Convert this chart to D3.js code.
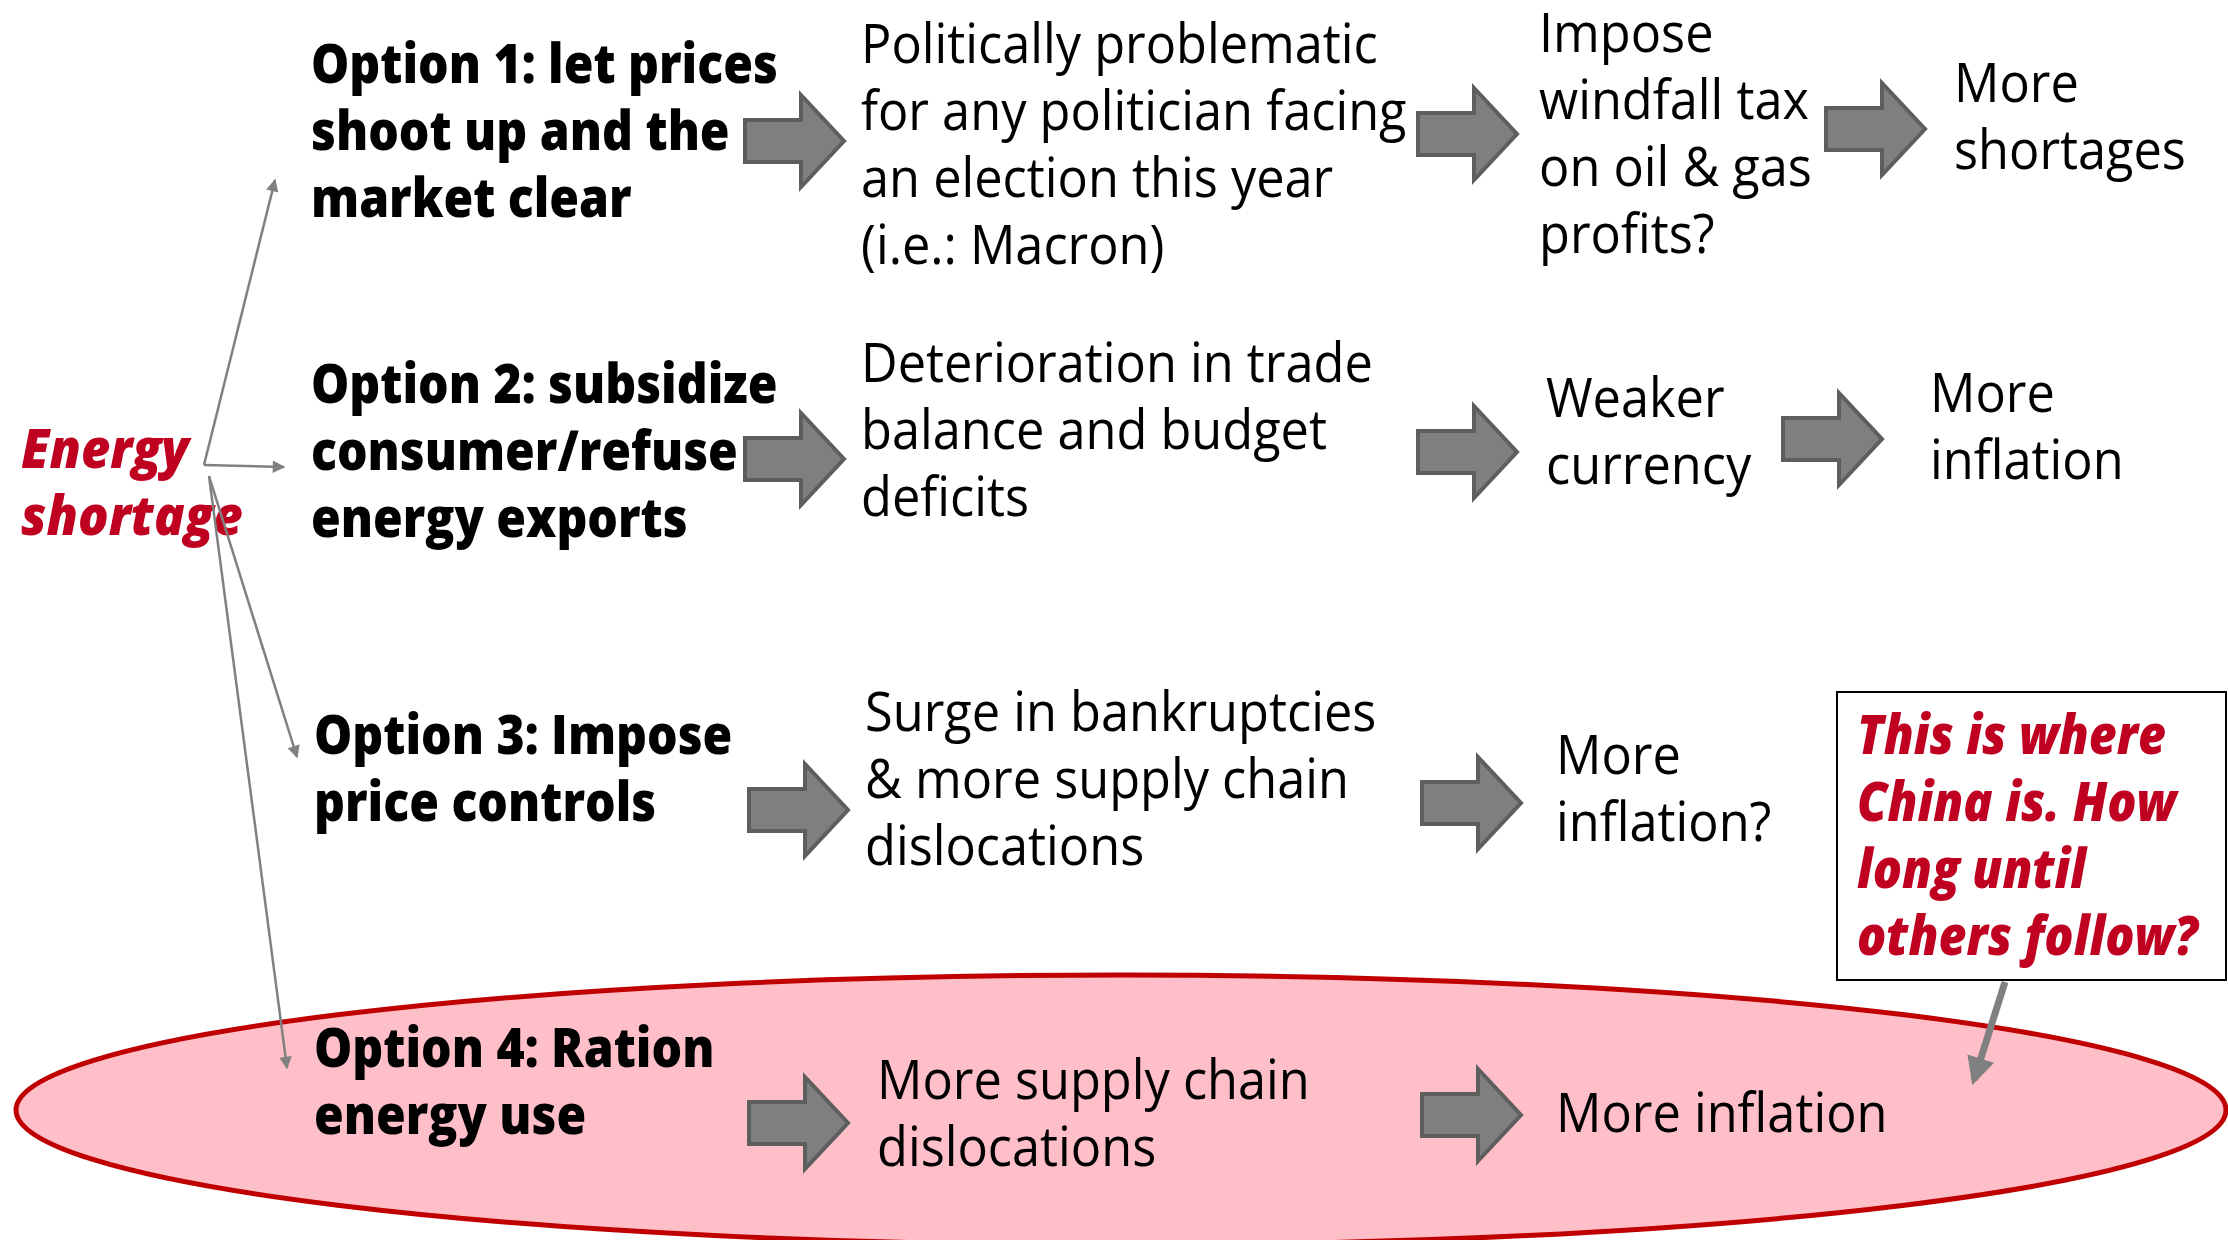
<!DOCTYPE html>
<html>
<head>
<meta charset="utf-8">
<script src="https://cdn.jsdelivr.net/npm/d3@7"></script>
<style>
  html, body { margin: 0; padding: 0; background: #fff; }
  svg { display: block; }
  text { font-family: "Open Sans", "Noto Sans", sans-serif; }
</style>
</head>
<body>
<div id="chart"></div>
<script>
// ---- content ----
var sourceLabel = ["Energy", "shortage"];

var optionLabels = [
  ["Option 1: let prices", "shoot up and the", "market clear"],
  ["Option 2: subsidize", "consumer/refuse", "energy exports"],
  ["Option 3: Impose", "price controls"],
  ["Option 4: Ration", "energy use"]
];

var firstEffects = [
  ["Politically problematic", "for any politician facing", "an election this year", "(i.e.: Macron)"],
  ["Deterioration in trade", "balance and budget", "deficits"],
  ["Surge in bankruptcies", "& more supply chain", "dislocations"],
  ["More supply chain", "dislocations"]
];

var secondEffects = [
  ["Impose", "windfall tax", "on oil & gas", "profits?"],
  ["Weaker", "currency"],
  ["More", "inflation?"],
  ["More inflation"]
];

var thirdEffects = [
  ["More", "shortages"],
  ["More", "inflation"],
  null,
  null
];

var calloutLines = ["This is where", "China is. How", "long until", "others follow?"];

// ---- layout (pixels) ----
var W = 2228, H = 1240;
var lineGap = 67;
var fontSize = 54;
var red = "#c00021";

// first baseline of each text block, per row
var optionPos  = [[311, 83], [311, 403], [314, 754], [314, 1067]];
var firstPos   = [[861, 63], [861, 382], [865, 731], [877, 1099]];
var secondPos  = [[1539, 52], [1546, 417], [1556, 774], [1556, 1132]];
var thirdPos   = [[1954, 102], [1930, 412], null, null];

// block arrows: left x, centre y
var arrows = [
  [745, 141], [1418, 134], [1826, 129],
  [745, 459], [1418, 452], [1783, 439],
  [749, 810], [1422, 803],
  [749, 1123], [1422, 1115]
];

// fan from "Energy shortage" to each option
var fanOrigin = [[204, 465], [204, 465], [209, 476], [209, 476]];
var fanEnds = [[275, 180], [284, 467], [297, 757], [287, 1068]];

var svg = d3.select("#chart").append("svg")
  .attr("width", W)
  .attr("height", H);

var defs = svg.append("defs");
defs.append("marker")
  .attr("id", "thin")
  .attr("viewBox", "0 0 10 10")
  .attr("refX", 9).attr("refY", 5)
  .attr("markerWidth", 6).attr("markerHeight", 5)
  .attr("markerUnits", "strokeWidth")
  .attr("orient", "auto")
  .append("path").attr("d", "M0,0 L10,5 L0,10 Z").attr("fill", "#808080");
defs.append("marker")
  .attr("id", "thick")
  .attr("viewBox", "0 0 10 10")
  .attr("refX", 8).attr("refY", 5)
  .attr("markerWidth", 4.5).attr("markerHeight", 4)
  .attr("markerUnits", "strokeWidth")
  .attr("orient", "auto")
  .append("path").attr("d", "M0,0 L10,5 L0,10 Z").attr("fill", "#808080");

// ellipse highlighting option 4
svg.append("ellipse")
  .attr("cx", 1121).attr("cy", 1110)
  .attr("rx", 1105).attr("ry", 135)
  .attr("fill", "#ffbfc9")
  .attr("stroke", "#c00000")
  .attr("stroke-width", 5);

// measure a string to get a condensing factor (Myriad is narrower than what we have)
function fitFactor(str, weight, style, target) {
  var t = svg.append("text")
    .attr("font-size", fontSize)
    .attr("font-weight", weight)
    .attr("font-style", style)
    .text(str);
  var w = t.node().getComputedTextLength();
  t.remove();
  return target / w;
}

var kReg = fitFactor("Politically problematic", 400, "normal", 517);
var kBold = fitFactor("Option 1: let prices", 800, "normal", 467);
var kCall = fitFactor("others follow?", 800, "italic", 341);
var kSrc = fitFactor("shortage", 800, "italic", 222);

function block(lines, pos, weight, style, fill, k) {
  if (!lines) return;
  svg.append("g").selectAll("text")
    .data(lines)
    .enter().append("text")
    .attr("transform", function(d, i) {
      return "translate(" + pos[0] + "," + (pos[1] + i * lineGap) + ") scale(" + k + ",1)";
    })
    .attr("font-size", fontSize)
    .attr("font-weight", weight)
    .attr("font-style", style)
    .attr("fill", fill)
    .text(function(d) { return d; });
}

optionLabels.forEach(function(d, i) { block(d, optionPos[i], 800, "normal", "#000", kBold); });
firstEffects.forEach(function(d, i) { block(d, firstPos[i], 400, "normal", "#000", kReg); });
secondEffects.forEach(function(d, i) { block(d, secondPos[i], 400, "normal", "#000", kReg); });
thirdEffects.forEach(function(d, i) { block(d, thirdPos[i], 400, "normal", "#000", kReg); });

block(sourceLabel, [21, 468], 800, "italic", red, kSrc);

// block arrows
svg.append("g").selectAll("path")
  .data(arrows)
  .enter().append("path")
  .attr("transform", function(d) { return "translate(" + d[0] + "," + d[1] + ")"; })
  .attr("d", "M0,-21 L56,-21 L56,-46 L99,0 L56,46 L56,21 L0,21 Z")
  .attr("fill", "#7f7f7f")
  .attr("stroke", "#5e5e5e")
  .attr("stroke-width", 4)
  .attr("stroke-linejoin", "miter");

// fan lines
svg.append("g").selectAll("line")
  .data(fanEnds)
  .enter().append("line")
  .attr("x1", function(d, i) { return fanOrigin[i][0]; })
  .attr("y1", function(d, i) { return fanOrigin[i][1]; })
  .attr("x2", function(d) { return d[0]; })
  .attr("y2", function(d) { return d[1]; })
  .attr("stroke", "#808080")
  .attr("stroke-width", 2.5)
  .attr("marker-end", "url(#thin)");

// callout
svg.append("rect")
  .attr("x", 1837).attr("y", 692)
  .attr("width", 389).attr("height", 288)
  .attr("fill", "#fff")
  .attr("stroke", "#000")
  .attr("stroke-width", 2);
block(calloutLines, [1857, 754], 800, "italic", red, kCall);

svg.append("line")
  .attr("x1", 2005).attr("y1", 982)
  .attr("x2", 1974).attr("y2", 1080)
  .attr("stroke", "#808080")
  .attr("stroke-width", 7)
  .attr("marker-end", "url(#thick)");
</script>
</body>
</html>
